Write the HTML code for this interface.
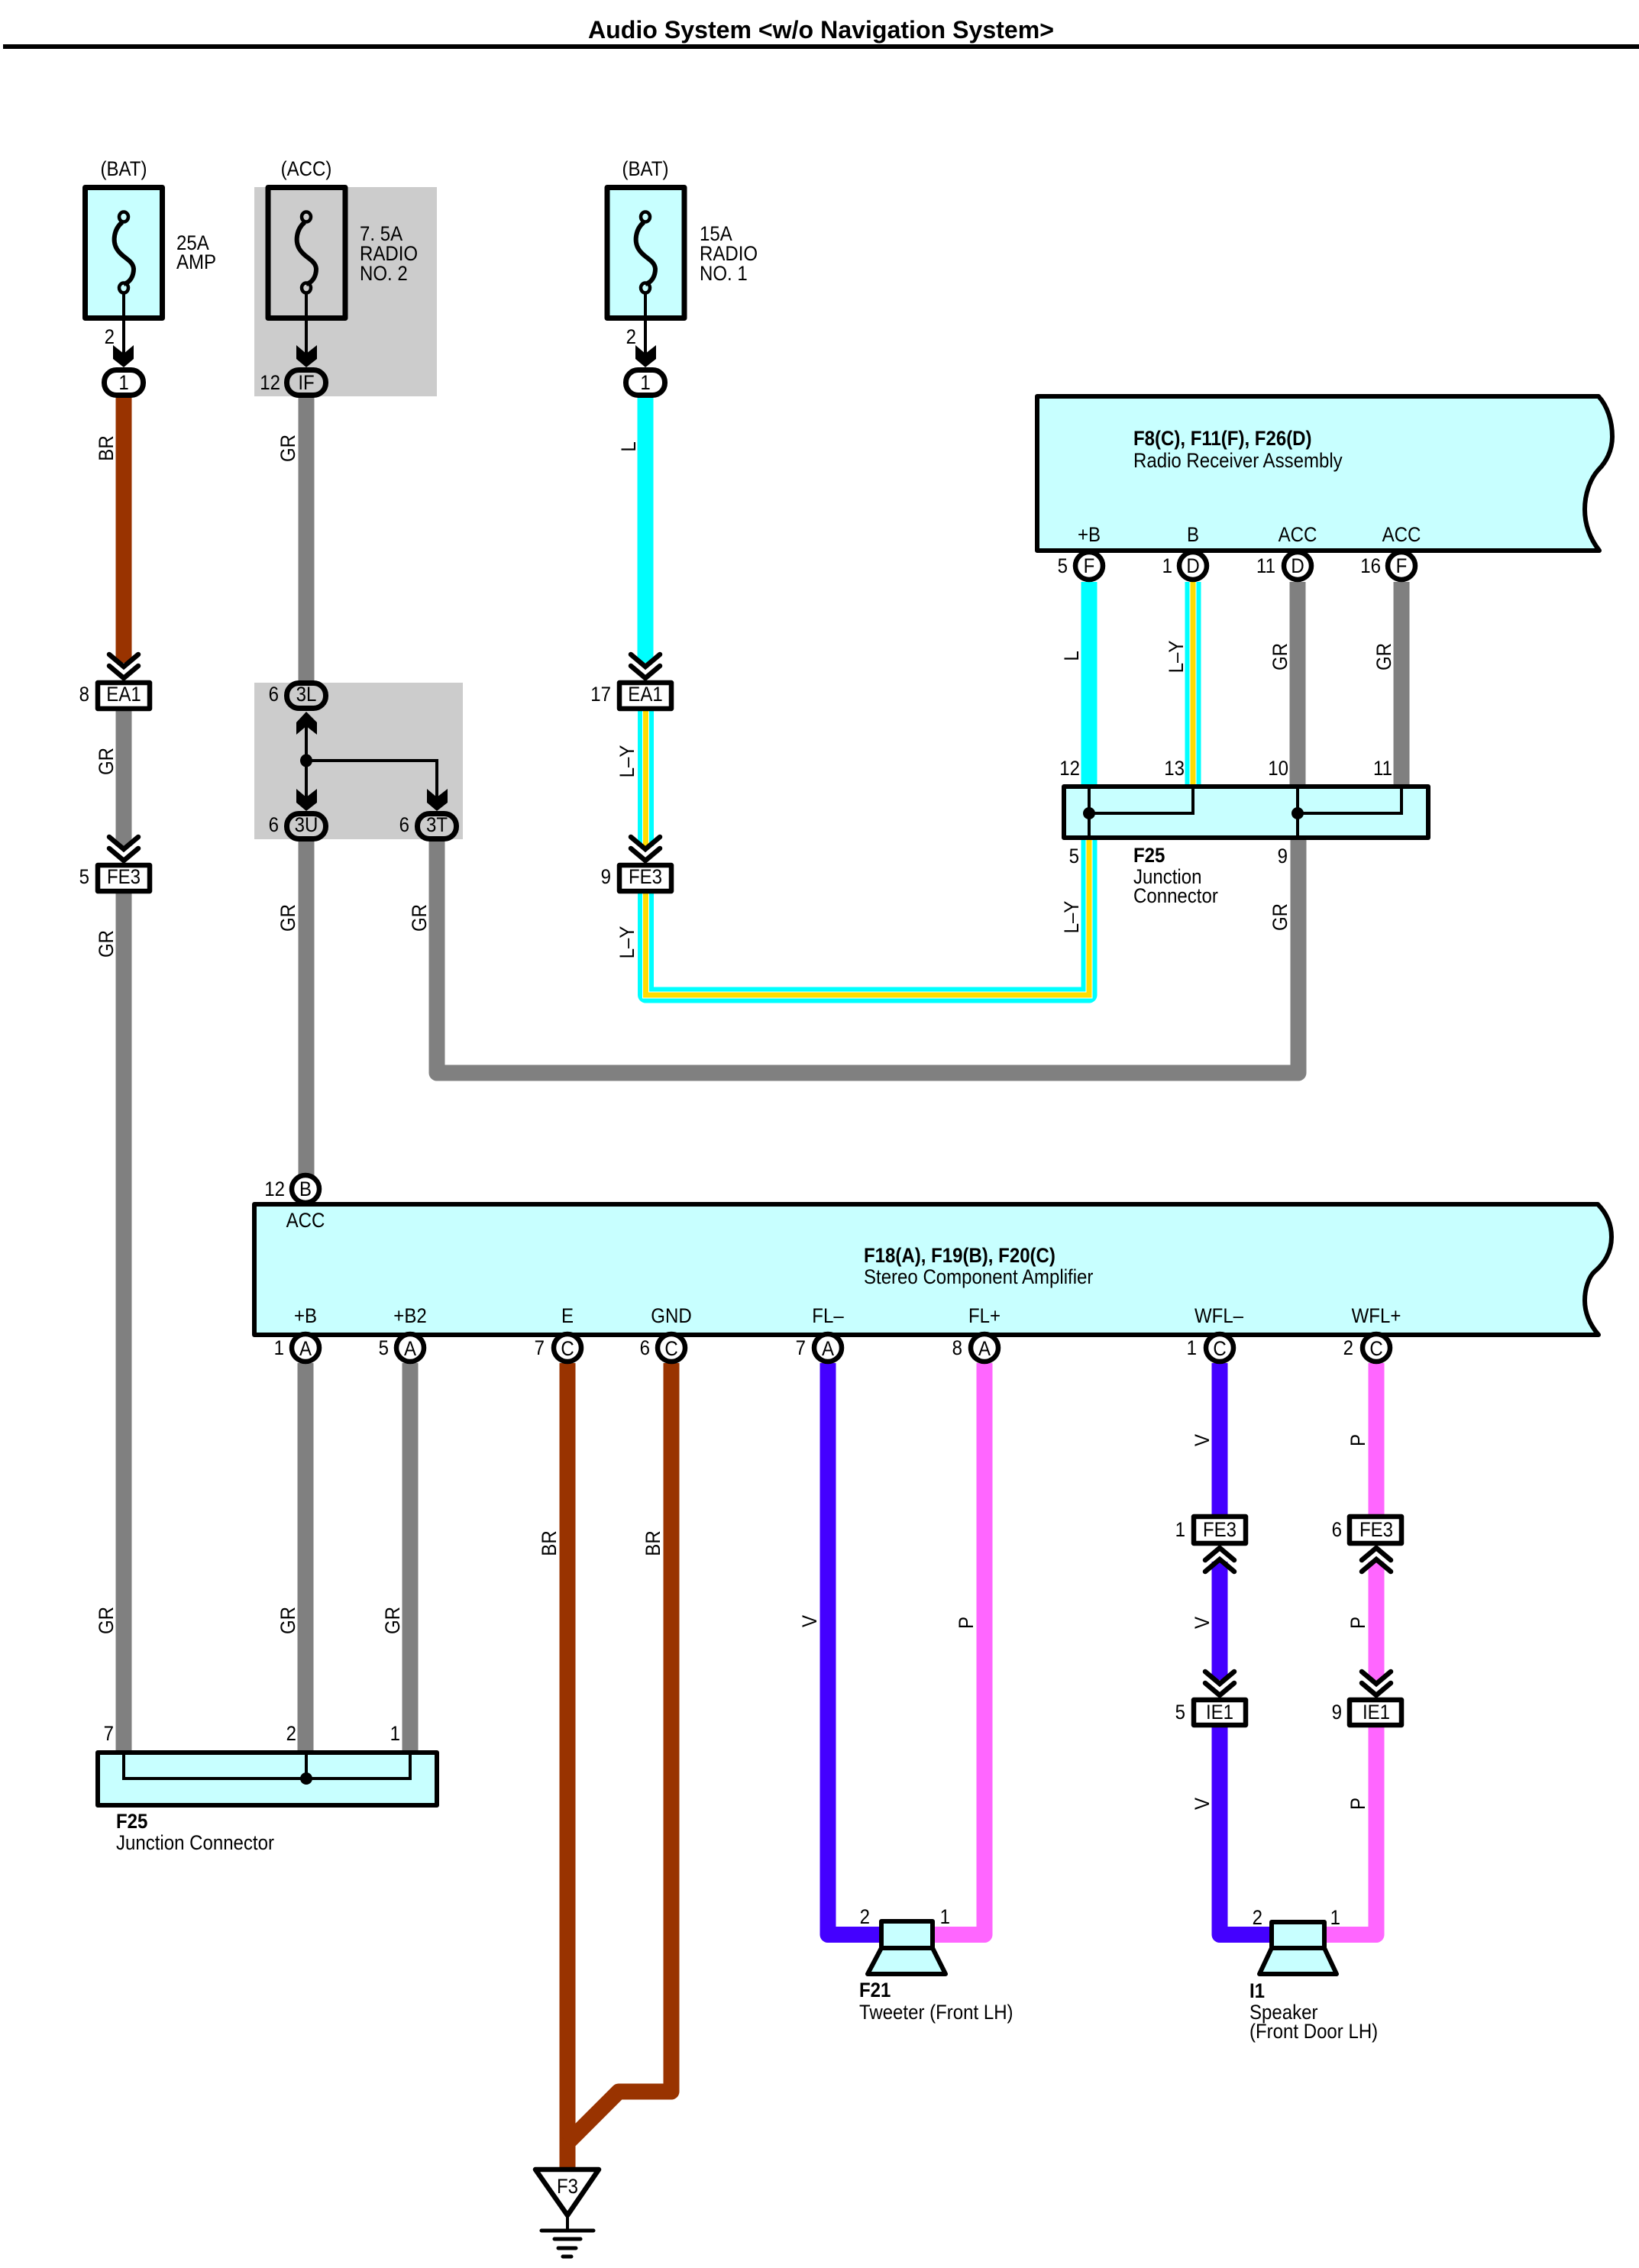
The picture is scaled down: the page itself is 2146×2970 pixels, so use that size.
<!DOCTYPE html>
<html><head><meta charset="utf-8"><title>Audio System</title>
<style>
html,body{margin:0;padding:0;background:#fff}
svg{display:block}
text{font-family:"Liberation Sans",sans-serif;font-size:27px;fill:#000}
.m{text-anchor:middle}.e{text-anchor:end}.b{font-weight:bold}
.w{fill:none;stroke-width:21;stroke-linejoin:round}
.sq{fill:none;stroke-linejoin:round}
.box{fill:#c8ffff;stroke:#000;stroke-width:6;stroke-linejoin:round}
.wb{fill:#fff;stroke:#000;stroke-width:6.500;stroke-linejoin:round}
.gb{fill:#ccc;stroke:#000;stroke-width:6.500;stroke-linejoin:round}
.p{stroke-width:7}
.f{stroke-width:7}
.l{fill:none;stroke:#000;stroke-width:4;stroke-linejoin:miter}
.ch{fill:none;stroke:#000;stroke-width:6.500;stroke-linecap:round;stroke-linejoin:miter}
</style></head><body>
<svg width="2146" height="2970" viewBox="0 0 2146 2970" xmlns="http://www.w3.org/2000/svg">
<rect width="2146" height="2970" fill="#fff"/>

<!-- Title -->
<text class="b" x="770" y="50" style="font-size:32px" textLength="610" lengthAdjust="spacingAndGlyphs">Audio System &lt;w/o Navigation System&gt;</text>
<rect x="4" y="58" width="2142" height="6" fill="#000"/>

<!-- shaded regions -->
<rect x="333" y="245" width="239" height="274" fill="#ccc"/>
<rect x="333" y="894" width="273" height="205" fill="#ccc"/>

<!-- Wires -->
<g class="w" stroke="#993300">
<path class="w" d="M162 521V868"/>
<path class="w" d="M743 1785V2838"/>
<path class="w" d="M879 1785V2739H810L743 2806"/>
</g>
<g class="w" stroke="#808080">
<path class="w" d="M401 521V891"/>
<path class="w" d="M162 931V1108"/>
<path class="w" d="M162 1170V2292"/>
<path class="w" d="M401 1102V1540"/>
<path class="w" d="M572 1102V1405H1700V1100"/>
<path class="w" d="M1699 762V1027"/>
<path class="w" d="M1835 762V1027"/>
<path class="w" d="M400 1785V2292"/>
<path class="w" d="M537 1785V2292"/>
</g>
<g class="w" stroke="#00ffff">
<path class="w" d="M845 521V868"/>
<path class="w" d="M1426 762V1027"/>
</g>
<!-- L-Y striped -->
<g class="sq" stroke="#00ffff" stroke-width="21">
<path d="M845.500 931V1108"/><path d="M845.500 1170V1303H1426V1100"/><path d="M1562 762V1027"/>
</g>
<g fill="none" stroke="#fff" stroke-width="9">
<path d="M845.500 931V1108"/><path d="M845.500 1170V1303H1426V1100"/><path d="M1562 762V1027"/>
</g>
<g fill="none" stroke="#ffdd00" stroke-width="7">
<path d="M845.500 931V1108"/><path d="M845.500 1170V1303H1426V1100"/><path d="M1562 762V1027"/>
</g>
<g class="w" stroke="#4400ff">
<path class="w" d="M1084 1785V2533.500H1155"/>
<path class="w" d="M1597 1785V1985"/>
<path class="w" d="M1597 2045V2200"/>
<path class="w" d="M1597 2262V2533.500H1665"/>
</g>
<g class="w" stroke="#ff66ff">
<path class="w" d="M1289 1785V2533.500H1220"/>
<path class="w" d="M1802 1785V1985"/>
<path class="w" d="M1802 2045V2200"/>
<path class="w" d="M1802 2262V2533.500H1734"/>
</g>

<!-- Fuses -->
<rect class="box f" x="111.500" y="245.500" width="101" height="171"/>
<rect class="gb f" x="351" y="245.500" width="101" height="171"/>
<rect class="box f" x="795" y="245.500" width="101" height="171"/>
<g fill="none" stroke="#000" stroke-width="6">
<path d="M160 291C149 300 147 316 153 326C160 338 174 340 175 352C175 362 170 370 162 372"/>
<path d="M399 291C388 300 386 316 392 326C399 338 413 340 414 352C414 362 409 370 401 372"/>
<path d="M843 291C832 300 830 316 836 326C843 338 857 340 858 352C858 362 853 370 845 372"/>
</g>
<g fill="none" stroke="#000" stroke-width="4.500">
<ellipse cx="162" cy="284" rx="6" ry="6.500"/><ellipse cx="162" cy="377" rx="6" ry="6.500"/>
<ellipse cx="401" cy="284" rx="6" ry="6.500"/><ellipse cx="401" cy="377" rx="6" ry="6.500"/>
<ellipse cx="845" cy="284" rx="6" ry="6.500"/><ellipse cx="845" cy="377" rx="6" ry="6.500"/>
</g>
<!-- fuse leads + arrows -->
<g stroke="#000" stroke-width="4" fill="none">
<path d="M162 384V470"/><path d="M401 384V470"/><path d="M845 384V470"/>
</g>
<polygon points="148,452 162,463 175,452 175,470 162,481 148,470"/>
<polygon points="388,452 401,463 415,452 415,470 401,481 388,470"/>
<polygon points="832,452 845,463 859,452 859,470 845,481 832,470"/>

<!-- Pills top -->
<rect class="wb p" x="136.500" y="484.500" width="51" height="33" rx="16"/>
<rect class="gb p" x="375.500" y="484.500" width="51" height="33" rx="16"/>
<rect class="wb p" x="819.500" y="484.500" width="51" height="33" rx="16"/>

<!-- Inline connectors -->
<rect class="wb" x="128" y="894" width="68" height="34"/>
<rect class="wb" x="128" y="1133" width="68" height="34"/>
<rect class="wb" x="811" y="894" width="68" height="34"/>
<rect class="wb" x="811" y="1133" width="68" height="34"/>
<rect class="wb" x="1563" y="1986" width="68" height="35"/>
<rect class="wb" x="1767" y="1986" width="68" height="35"/>
<rect class="wb" x="1563" y="2226" width="68" height="33"/>
<rect class="wb" x="1767" y="2226" width="68" height="33"/>

<!-- Chevrons -->
<g class="ch">
<path d="M143 857L162 873L181 857"/><path d="M143 872L162 888L181 872"/>
<path d="M143 1096L162 1112L181 1096"/><path d="M143 1111L162 1127L181 1111"/>
<path d="M826 857L845 873L864 857"/><path d="M826 872L845 888L864 872"/>
<path d="M826 1096L845 1112L864 1096"/><path d="M826 1111L845 1127L864 1111"/>
<path d="M1578 2043L1597 2027L1616 2043"/><path d="M1578 2058L1597 2042L1616 2058"/>
<path d="M1783 2043L1802 2027L1821 2043"/><path d="M1783 2058L1802 2042L1821 2058"/>
<path d="M1578 2189L1597 2205L1616 2189"/><path d="M1578 2204L1597 2220L1616 2204"/>
<path d="M1783 2189L1802 2205L1821 2189"/><path d="M1783 2204L1802 2220L1821 2204"/>
</g>

<!-- Junction in shade -->
<rect class="gb p" x="375.500" y="894.500" width="51" height="33" rx="16"/>
<rect class="gb p" x="375.500" y="1065.500" width="51" height="33" rx="16"/>
<rect class="gb p" x="546.500" y="1065.500" width="51" height="33" rx="16"/>
<path class="l" d="M401 950V1045M401 996H572V1045"/>
<ellipse cx="401" cy="996" rx="8" ry="8.500"/>
<polygon points="401,932 415,946 415,962 401,951 388,962 388,946"/>
<polygon points="388,1033 401,1044 415,1033 415,1051 401,1062 388,1051"/>
<polygon points="559,1033 572,1044 586,1033 586,1051 572,1062 559,1051"/>

<!-- Radio receiver -->
<path class="box" d="M1358 519H2093C2105 532 2111 552 2111 572C2111 590 2103 605 2093 615C2082 627 2075 647 2075 667C2075 690 2084 708 2094 721H1358Z"/>
<!-- Amplifier -->
<path class="box" d="M333 1577H2092C2105 1590 2110 1605 2110 1620C2110 1640 2100 1655 2088 1665C2080 1672 2075 1688 2075 1703C2075 1720 2082 1735 2093 1748H333Z"/>

<!-- Junction box F25 right -->
<rect class="box" x="1393" y="1030" width="477" height="67"/>
<path class="l" d="M1426 1030V1100M1426 1065H1562V1030M1699 1030V1100M1699 1065H1835V1030"/>
<circle cx="1426" cy="1065" r="8"/><circle cx="1699" cy="1065" r="8"/>

<!-- Junction box F25 left -->
<rect class="box" x="128" y="2295" width="444" height="69"/>
<path class="l" d="M162 2295V2329H537V2295M401 2295V2329"/>
<circle cx="401" cy="2329" r="8"/>

<!-- Pin circles -->
<g class="wb">
<circle cx="1426" cy="741" r="18"/><circle cx="1562" cy="741" r="18"/><circle cx="1699" cy="741" r="18"/><circle cx="1835" cy="741" r="18"/>
<circle cx="400" cy="1557" r="18"/>
<circle cx="400" cy="1765" r="18"/><circle cx="537" cy="1765" r="18"/><circle cx="743" cy="1765" r="18"/><circle cx="879" cy="1765" r="18"/><circle cx="1084" cy="1765" r="18"/><circle cx="1289" cy="1765" r="18"/><circle cx="1597" cy="1765" r="18"/><circle cx="1802" cy="1765" r="18"/>
</g>

<!-- Speakers -->
<polygon class="box" points="1154,2551 1221,2551 1238,2585 1136,2585"/>
<rect class="box" x="1154" y="2516" width="67" height="35"/>
<polygon class="box" points="1665,2551 1734,2551 1750,2585 1649,2585"/>
<rect class="box" x="1665" y="2517" width="69" height="34"/>

<!-- Ground -->
<polygon class="wb" points="701,2841 784,2841 743,2901"/>
<path d="M743 2903V2921" stroke="#000" stroke-width="4"/>
<g stroke="#000" stroke-width="5" stroke-linecap="round">
<path d="M709 2921H777M726 2932H760M731 2944H754M737 2955H748"/>
</g>

<!-- Text: power -->
<text class="m" transform="translate(162 230) scale(.89 1)">(BAT)</text>
<text class="m" transform="translate(401 230) scale(.89 1)">(ACC)</text>
<text class="m" transform="translate(845 230) scale(.89 1)">(BAT)</text>
<text transform="translate(231 327) scale(.89 1)">25A</text>
<text transform="translate(231 352) scale(.89 1)">AMP</text>
<text transform="translate(471 315) scale(.89 1)">7. 5A</text>
<text transform="translate(471 341) scale(.89 1)">RADIO</text>
<text transform="translate(471 367) scale(.89 1)">NO. 2</text>
<text transform="translate(916 315) scale(.89 1)">15A</text>
<text transform="translate(916 341) scale(.89 1)">RADIO</text>
<text transform="translate(916 367) scale(.89 1)">NO. 1</text>
<text class="e" transform="translate(150 450) scale(.89 1)">2</text>
<text class="e" transform="translate(833 450) scale(.89 1)">2</text>
<text class="m" transform="translate(162 510) scale(.89 1)">1</text>
<text class="m" transform="translate(401 510) scale(.89 1)">IF</text>
<text class="m" transform="translate(845 510) scale(.89 1)">1</text>
<text class="e" transform="translate(367 510) scale(.89 1)">12</text>

<!-- Inline labels -->
<text class="m" transform="translate(162 918) scale(.89 1)">EA1</text>
<text class="e" transform="translate(117 918) scale(.89 1)">8</text>
<text class="m" transform="translate(162 1157) scale(.89 1)">FE3</text>
<text class="e" transform="translate(117 1157) scale(.89 1)">5</text>
<text class="m" transform="translate(845 918) scale(.89 1)">EA1</text>
<text class="e" transform="translate(800 918) scale(.89 1)">17</text>
<text class="m" transform="translate(845 1157) scale(.89 1)">FE3</text>
<text class="e" transform="translate(800 1157) scale(.89 1)">9</text>
<text class="m" transform="translate(401 918) scale(.89 1)">3L</text>
<text class="e" transform="translate(365 918) scale(.89 1)">6</text>
<text class="m" transform="translate(401 1089) scale(.89 1)">3U</text>
<text class="e" transform="translate(365 1089) scale(.89 1)">6</text>
<text class="m" transform="translate(572 1089) scale(.89 1)">3T</text>
<text class="e" transform="translate(536 1089) scale(.89 1)">6</text>
<text class="m" transform="translate(1597 2012) scale(.89 1)">FE3</text>
<text class="e" transform="translate(1552 2012) scale(.89 1)">1</text>
<text class="m" transform="translate(1802 2012) scale(.89 1)">FE3</text>
<text class="e" transform="translate(1757 2012) scale(.89 1)">6</text>
<text class="m" transform="translate(1597 2251) scale(.89 1)">IE1</text>
<text class="e" transform="translate(1552 2251) scale(.89 1)">5</text>
<text class="m" transform="translate(1802 2251) scale(.89 1)">IE1</text>
<text class="e" transform="translate(1757 2251) scale(.89 1)">9</text>

<!-- Rotated wire labels -->
<text class="m" transform="translate(148 587) rotate(-90) scale(.89 1)">BR</text>
<text class="m" transform="translate(386 587) rotate(-90) scale(.89 1)">GR</text>
<text class="m" transform="translate(832 585) rotate(-90) scale(.89 1)">L</text>
<text class="m" transform="translate(148 997) rotate(-90) scale(.89 1)">GR</text>
<text class="m" transform="translate(148 1236) rotate(-90) scale(.89 1)">GR</text>
<text class="m" transform="translate(148 2122) rotate(-90) scale(.89 1)">GR</text>
<text class="m" transform="translate(386 1202) rotate(-90) scale(.89 1)">GR</text>
<text class="m" transform="translate(558 1202) rotate(-90) scale(.89 1)">GR</text>
<text class="m" transform="translate(830 997) rotate(-90) scale(.89 1)">L–Y</text>
<text class="m" transform="translate(830 1234) rotate(-90) scale(.89 1)">L–Y</text>
<text class="m" transform="translate(1412 859) rotate(-90) scale(.89 1)">L</text>
<text class="m" transform="translate(1549 860) rotate(-90) scale(.89 1)">L–Y</text>
<text class="m" transform="translate(1685 860) rotate(-90) scale(.89 1)">GR</text>
<text class="m" transform="translate(1821 860) rotate(-90) scale(.89 1)">GR</text>
<text class="m" transform="translate(1412 1201) rotate(-90) scale(.89 1)">L–Y</text>
<text class="m" transform="translate(1685 1201) rotate(-90) scale(.89 1)">GR</text>
<text class="m" transform="translate(386 2122) rotate(-90) scale(.89 1)">GR</text>
<text class="m" transform="translate(523 2122) rotate(-90) scale(.89 1)">GR</text>
<text class="m" transform="translate(728 2021) rotate(-90) scale(.89 1)">BR</text>
<text class="m" transform="translate(864 2021) rotate(-90) scale(.89 1)">BR</text>
<text class="m" transform="translate(1069 2123) rotate(-90) scale(.89 1)">V</text>
<text class="m" transform="translate(1274 2125) rotate(-90) scale(.89 1)">P</text>
<text class="m" transform="translate(1583 1886) rotate(-90) scale(.89 1)">V</text>
<text class="m" transform="translate(1583 2125) rotate(-90) scale(.89 1)">V</text>
<text class="m" transform="translate(1583 2362) rotate(-90) scale(.89 1)">V</text>
<text class="m" transform="translate(1787 1886) rotate(-90) scale(.89 1)">P</text>
<text class="m" transform="translate(1787 2125) rotate(-90) scale(.89 1)">P</text>
<text class="m" transform="translate(1787 2362) rotate(-90) scale(.89 1)">P</text>

<!-- Radio receiver text -->
<text class="b" transform="translate(1484 583) scale(.89 1)">F8(C), F11(F), F26(D)</text>
<text transform="translate(1484 612) scale(.89 1)">Radio Receiver Assembly</text>
<text class="m" transform="translate(1426 709) scale(.89 1)">+B</text>
<text class="m" transform="translate(1562 709) scale(.89 1)">B</text>
<text class="m" transform="translate(1699 709) scale(.89 1)">ACC</text>
<text class="m" transform="translate(1835 709) scale(.89 1)">ACC</text>
<text class="m" transform="translate(1426 750) scale(.89 1)">F</text>
<text class="m" transform="translate(1562 750) scale(.89 1)">D</text>
<text class="m" transform="translate(1699 750) scale(.89 1)">D</text>
<text class="m" transform="translate(1835 750) scale(.89 1)">F</text>
<text class="e" transform="translate(1398 750) scale(.89 1)">5</text>
<text class="e" transform="translate(1535 750) scale(.89 1)">1</text>
<text class="e" transform="translate(1670 750) scale(.89 1)">11</text>
<text class="e" transform="translate(1808 750) scale(.89 1)">16</text>

<!-- F25 right text -->
<text class="e" transform="translate(1414 1015) scale(.89 1)">12</text>
<text class="e" transform="translate(1551 1015) scale(.89 1)">13</text>
<text class="e" transform="translate(1687 1015) scale(.89 1)">10</text>
<text class="e" transform="translate(1823 1015) scale(.89 1)">11</text>
<text class="e" transform="translate(1413 1130) scale(.89 1)">5</text>
<text class="e" transform="translate(1686 1130) scale(.89 1)">9</text>
<text class="b" transform="translate(1484 1129) scale(.89 1)">F25</text>
<text transform="translate(1484 1157) scale(.89 1)">Junction</text>
<text transform="translate(1484 1182) scale(.89 1)">Connector</text>

<!-- Amplifier text -->
<text class="b" transform="translate(1131 1653) scale(.89 1)">F18(A), F19(B), F20(C)</text>
<text transform="translate(1131 1681) scale(.89 1)">Stereo Component Amplifier</text>
<text class="m" transform="translate(400 1607) scale(.89 1)">ACC</text>
<text class="m" transform="translate(400 1566) scale(.89 1)">B</text>
<text class="e" transform="translate(373 1566) scale(.89 1)">12</text>
<text class="m" transform="translate(400 1732) scale(.89 1)">+B</text>
<text class="m" transform="translate(537 1732) scale(.89 1)">+B2</text>
<text class="m" transform="translate(743 1732) scale(.89 1)">E</text>
<text class="m" transform="translate(879 1732) scale(.89 1)">GND</text>
<text class="m" transform="translate(1084 1732) scale(.89 1)">FL–</text>
<text class="m" transform="translate(1289 1732) scale(.89 1)">FL+</text>
<text class="m" transform="translate(1596 1732) scale(.89 1)">WFL–</text>
<text class="m" transform="translate(1802 1732) scale(.89 1)">WFL+</text>
<text class="m" transform="translate(400 1775) scale(.89 1)">A</text>
<text class="m" transform="translate(537 1775) scale(.89 1)">A</text>
<text class="m" transform="translate(743 1775) scale(.89 1)">C</text>
<text class="m" transform="translate(879 1775) scale(.89 1)">C</text>
<text class="m" transform="translate(1084 1775) scale(.89 1)">A</text>
<text class="m" transform="translate(1289 1775) scale(.89 1)">A</text>
<text class="m" transform="translate(1597 1775) scale(.89 1)">C</text>
<text class="m" transform="translate(1802 1775) scale(.89 1)">C</text>
<text class="e" transform="translate(372 1774) scale(.89 1)">1</text>
<text class="e" transform="translate(509 1774) scale(.89 1)">5</text>
<text class="e" transform="translate(713 1774) scale(.89 1)">7</text>
<text class="e" transform="translate(851 1774) scale(.89 1)">6</text>
<text class="e" transform="translate(1055 1774) scale(.89 1)">7</text>
<text class="e" transform="translate(1260 1774) scale(.89 1)">8</text>
<text class="e" transform="translate(1567 1774) scale(.89 1)">1</text>
<text class="e" transform="translate(1772 1774) scale(.89 1)">2</text>

<!-- F25 left text -->
<text class="e" transform="translate(149 2279) scale(.89 1)">7</text>
<text class="e" transform="translate(388 2279) scale(.89 1)">2</text>
<text class="e" transform="translate(524 2279) scale(.89 1)">1</text>
<text class="b" transform="translate(152 2394) scale(.89 1)">F25</text>
<text transform="translate(152 2422) scale(.89 1)">Junction Connector</text>

<!-- Speakers text -->
<text class="e" transform="translate(1139 2519) scale(.89 1)">2</text>
<text class="e" transform="translate(1244 2519) scale(.89 1)">1</text>
<text class="b" transform="translate(1125 2615) scale(.89 1)">F21</text>
<text transform="translate(1125 2644) scale(.89 1)">Tweeter (Front LH)</text>
<text class="e" transform="translate(1653 2520) scale(.89 1)">2</text>
<text class="e" transform="translate(1755 2520) scale(.89 1)">1</text>
<text class="b" transform="translate(1636 2616) scale(.89 1)">I1</text>
<text transform="translate(1636 2644) scale(.89 1)">Speaker</text>
<text transform="translate(1636 2669) scale(.89 1)">(Front Door LH)</text>
<text class="m" transform="translate(743 2872) scale(.89 1)">F3</text>
</svg>
</body></html>
